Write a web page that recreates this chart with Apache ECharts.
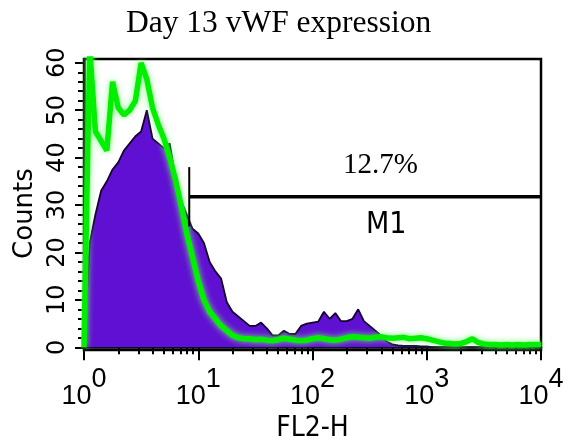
<!DOCTYPE html>
<html><head><meta charset="utf-8">
<script src="https://cdn.jsdelivr.net/npm/echarts@6/dist/echarts.min.js"></script>
<style>html,body{margin:0;padding:0;background:#fff}#chart{width:569px;height:448px}</style>
</head><body><div id="chart"></div>
<script>
// ---- text ----
const chartTitle = 'Day 13 vWF expression';
const xAxisName = 'FL2-H';
const yAxisName = 'Counts';
const gateName = 'M1';
const gatePercent = '12.7%';

// ---- axes (x in decades: log10 of FL2-H) ----
const xDecadeTicks = [0, 1, 2, 3, 4];
const minorMantissas = [2, 3, 4, 5, 6, 7, 8, 9];
const yMajorTicks = [0, 10, 20, 30, 40, 50, 60];
const yMinorTicks = [2,4,6,8,12,14,16,18,22,24,26,28,32,34,36,38,42,44,46,48,52,54,56,58];

// ---- histogram channels: one count per 0.05 decade, starting at 10^0 ----
const channelStepDecades = 0.05;
const vwfCounts = [
  0, 22, 28, 33, 35, 37.5, 39, 41.5, 43, 44.5,
  45.5, 50, 44, 43, 42, 43, 36, 31, 28, 25,
  24, 22, 18, 16, 14.5, 9.5, 7.5, 6.5, 5.5, 4.5,
  4.5, 5.2, 4, 2.5, 2.5, 3.5, 2.8, 2.8, 4.5, 5,
  5.2, 5.4, 7.5, 6, 7.2, 5.5, 5.5, 6, 8, 5.5,
  4.5, 3.5, 2.5, 1.2, 0.6, 0.4, 0.3, 0.3, 0.3, 0.2,
  0.2, 0, 0, 0, 0, 0, 0, 0, 0, 0,
  0, 0, 0, 0, 0, 0, 0, 0, 0, 0, 0
];
const controlCounts = [
  0, 63, 45.5, 43.5, 41.5, 56, 50.5, 49, 50, 52,
  60, 56.5, 50.5, 47, 44, 40, 35.5, 30, 24, 19,
  14, 10, 7.5, 6, 4.5, 3.5, 2.5, 2, 1.8, 1.8,
  1.6, 1.7, 1.5, 1.4, 1.6, 1.9, 1.7, 1.5, 1.4, 1.5,
  1.8, 2, 1.8, 1.6, 1.5, 1.7, 2, 2.2, 2.1, 2,
  1.9, 2.1, 2.2, 2, 1.9, 2, 2.1, 1.8, 1.9, 2,
  1.8, 1.5, 1.2, 0.9, 0.8, 0.7, 0.8, 1.2, 1.8, 1,
  0.7, 0.6, 0.6, 0.5, 0.6, 0.5, 0.6, 0.5, 0.6, 0.6, 0.6
];

// ---- M1 gate ----
const gateStartFL = 8.34;
const gateEndFL = 10000;
const gateLevel = 31.75;
const gateTickLow = 25.5;
const gateTickHigh = 38;

const cond = "'DejaVu Sans Condensed', 'Liberation Sans', sans-serif";
const arial = "'Liberation Sans', Arial, sans-serif";
const serif = "'Liberation Serif', 'Times New Roman', serif";
const sans = "'DejaVu Sans', 'Liberation Sans', sans-serif";

const toPts = arr => arr.map((v, i) => [i * channelStepDecades, v]);
const xMinorTicks = [];
for (let d = 0; d < 4; d++) for (const m of minorMantissas) xMinorTicks.push(d + Math.log10(m));
const gx0 = Math.log10(gateStartFL), gx1 = Math.log10(gateEndFL);

const chart = echarts.init(document.getElementById('chart'), null, {renderer: 'canvas'});
chart.setOption({
  animation: false,
  backgroundColor: '#fff',
  title: {
    text: chartTitle, left: 121, top: 3,
    textStyle: {fontFamily: serif, fontSize: 31.5, fontWeight: 'normal', color: '#000'}
  },
  grid: {left: 84, right: 28, top: 59, bottom: 91, show: true, borderColor: '#000', borderWidth: 2.5, backgroundColor: 'transparent'},
  xAxis: [{
    type: 'value', min: 0, max: 4,
    name: xAxisName, nameLocation: 'middle', nameGap: 61,
    nameTextStyle: {fontFamily: cond, fontSize: 28, color: '#000'},
    axisLine: {show: true, lineStyle: {color: '#000', width: 2.5}},
    axisTick: {show: true, length: 13, lineStyle: {color: '#000', width: 2}, customValues: xDecadeTicks},
    axisLabel: {
      customValues: xDecadeTicks, margin: 16, color: '#000',
      formatter: v => '{b|10}{s|' + Math.round(v) + '}',
      rich: {
        b: {fontFamily: arial, fontSize: 27, lineHeight: 44, verticalAlign: 'bottom', color: '#000'},
        s: {fontFamily: arial, fontSize: 27, lineHeight: 44, verticalAlign: 'top', color: '#000'}
      }
    },
    splitLine: {show: false}
  }, {
    type: 'value', min: 0, max: 4, position: 'bottom',
    axisLine: {show: false},
    axisTick: {show: true, length: 7, lineStyle: {color: '#000', width: 2}, customValues: xMinorTicks},
    axisLabel: {show: false},
    splitLine: {show: false}
  }],
  yAxis: [{
    type: 'value', min: -0.6, max: 60.8,
    name: yAxisName, nameLocation: 'middle', nameRotate: 90, nameGap: 46,
    nameTextStyle: {fontFamily: sans, fontSize: 26, color: '#000', padding: [0, 18, 0, 0]},
    axisLine: {show: true, lineStyle: {color: '#000', width: 2.5}},
    axisTick: {show: true, length: 9, lineStyle: {color: '#000', width: 2}, customValues: yMajorTicks},
    axisLabel: {customValues: yMajorTicks, rotate: 90, margin: 14, fontFamily: sans, fontSize: 24, color: '#000'},
    splitLine: {show: false}
  }, {
    type: 'value', min: -0.6, max: 60.8, position: 'left',
    axisLine: {show: false},
    axisTick: {show: true, length: 6, lineStyle: {color: '#000', width: 2}, customValues: yMinorTicks},
    axisLabel: {show: false},
    splitLine: {show: false}
  }],
  series: [{
    name: 'vWF', type: 'line', data: toPts(vwfCounts), showSymbol: false, z: 2,
    lineStyle: {color: '#14002e', width: 1.8},
    areaStyle: {color: '#6010d2', opacity: 1}
  }, {
    name: 'Control', type: 'line', data: toPts(controlCounts), showSymbol: false, z: 3,
    lineStyle: {color: '#00f000', width: 5.5, shadowColor: 'rgba(110,255,110,0.9)', shadowBlur: 6}
  }, {
    name: gateName, type: 'line', data: [[gx0, gateLevel], [gx1, gateLevel]], showSymbol: false, z: 4,
    lineStyle: {color: '#000', width: 3.5}
  }, {
    name: gateName + ' edge', type: 'line', data: [[gx0, gateTickHigh], [gx0, gateTickLow]], showSymbol: false, z: 4,
    lineStyle: {color: '#000', width: 2}
  }],
  graphic: [
    {type: 'text', left: 343, top: 151, style: {text: gatePercent, font: '29px ' + serif, fill: '#000'}},
    {type: 'text', left: 366, top: 210, style: {text: gateName, font: '30px ' + cond, fill: '#000'}}
  ]
});
</script></body></html>
